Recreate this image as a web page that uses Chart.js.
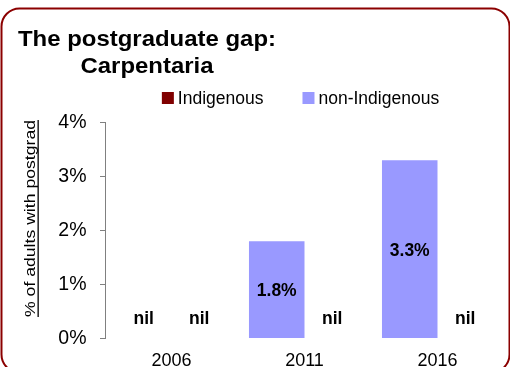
<!DOCTYPE html>
<html>
<head>
<meta charset="utf-8">
<script src="https://cdn.jsdelivr.net/npm/chart.js@4.4.1/dist/chart.umd.min.js"></script>
<style>
  html, body { margin: 0; padding: 0; background: #fff; }
  #wrap { width: 510px; height: 367px; }
</style>
</head>
<body>
<div id="wrap"><canvas id="c" width="510" height="367"></canvas></div>
<script>
// Census years and the share of adults holding a postgraduate qualification (%)
const years = ['2006', '2011', '2016'];
const seriesNames = ['Indigenous', 'non-Indigenous'];
const indigenous = [0, 0, 0];
const nonIndigenous = [0, 1.8, 3.3];
const yTicks = [0, 1, 2, 3, 4];
const titleLines = ['The postgraduate gap:', 'Carpentaria'];
const yTitle = '% of adults with postgrad';
const zeroLabel = 'nil';

const FONT = "'Liberation Sans', Arial, Helvetica, sans-serif";
const COLORS = { 'Indigenous': '#800000', 'non-Indigenous': '#9999ff' };

// Draw text horizontally stretched to a given width
function stretchedText(ctx, text, x, y, width, align) {
  const w = ctx.measureText(text).width;
  const sx = width / w;
  ctx.save();
  let left = x;
  if (align === 'center') left = x - width / 2;
  ctx.translate(left, y);
  ctx.scale(sx, 1);
  ctx.textAlign = 'left';
  ctx.fillText(text, 0, 0);
  ctx.restore();
  return sx;
}

const decor = {
  id: 'decor',
  beforeDraw(chart) {
    const ctx = chart.ctx;
    ctx.save();
    ctx.fillStyle = '#fff';
    ctx.fillRect(0, 0, chart.width, chart.height);
    // rounded frame
    const x = 1.5, y = 8.5, w = 508, h = 364, r = 18;
    ctx.beginPath();
    ctx.moveTo(x + r, y);
    ctx.lineTo(x + w - r, y);
    ctx.arcTo(x + w, y, x + w, y + r, r);
    ctx.lineTo(x + w, y + h - r);
    ctx.arcTo(x + w, y + h, x + w - r, y + h, r);
    ctx.lineTo(x + r, y + h);
    ctx.arcTo(x, y + h, x, y + h - r, r);
    ctx.lineTo(x, y + r);
    ctx.arcTo(x, y, x + r, y, r);
    ctx.closePath();
    ctx.lineWidth = 2;
    ctx.strokeStyle = '#8b0000';
    ctx.stroke();
    ctx.restore();
  },
  afterDraw(chart) {
    const ctx = chart.ctx;
    const area = chart.chartArea;
    const yScale = chart.scales.y;
    ctx.save();
    ctx.fillStyle = '#000';

    // title: two lines, second centred under the first
    ctx.font = 'bold 22px ' + FONT;
    ctx.textBaseline = 'alphabetic';
    const line1Left = 18, line1Width = 258;
    const sx = stretchedText(ctx, titleLines[0], line1Left, 46, line1Width, 'left');
    const w2 = ctx.measureText(titleLines[1]).width * sx;
    stretchedText(ctx, titleLines[1], line1Left + line1Width / 2, 73, w2, 'center');

    // legend
    ctx.font = '17.5px ' + FONT;
    const items = chart.data.datasets.slice().reverse();
    const box = 12, boxGap = 4, itemGap = 39;
    let total = 0;
    items.forEach((d, i) => {
      total += box + boxGap + ctx.measureText(d.label).width + (i < items.length - 1 ? itemGap : 0);
    });
    let lx = (area.left + area.right) / 2 - 4 - total / 2;
    const ly = 98;
    items.forEach(d => {
      ctx.fillStyle = d.backgroundColor;
      ctx.fillRect(lx, ly - box / 2, box, box);
      lx += box + boxGap;
      ctx.fillStyle = '#000';
      ctx.textAlign = 'left';
      ctx.fillText(d.label, lx, ly + 5.5);
      lx += ctx.measureText(d.label).width + itemGap;
    });

    // y-axis title, rotated and underlined
    ctx.font = '15.5px ' + FONT;
    const tw = ctx.measureText(yTitle).width;
    const len = 197;
    ctx.save();
    ctx.translate(35, 218.5);
    ctx.rotate(-Math.PI / 2);
    ctx.scale(len / tw, 1);
    ctx.textAlign = 'center';
    ctx.fillStyle = '#000';
    ctx.fillText(yTitle, 0, 0);
    ctx.fillRect(-tw / 2, 2.5, tw, 1.3);
    ctx.restore();

    // value labels on bars, "nil" for zero values
    ctx.font = 'bold 17.5px ' + FONT;
    ctx.textAlign = 'center';
    ctx.fillStyle = '#000';
    const y0 = yScale.getPixelForValue(0);
    chart.data.datasets.forEach((ds, di) => {
      const meta = chart.getDatasetMeta(di);
      meta.data.forEach((bar, i) => {
        const v = ds.data[i];
        if (v === 0) {
          ctx.fillText(zeroLabel, bar.x, y0 - 15);
        } else {
          ctx.fillText(v.toFixed(1) + '%', bar.x, (bar.y + bar.base) / 2 + 6.5);
        }
      });
    });
    ctx.restore();
  }
};

new Chart(document.getElementById('c'), {
  type: 'bar',
  data: {
    labels: years,
    datasets: [
      { label: seriesNames[1], data: nonIndigenous, backgroundColor: COLORS['non-Indigenous'], borderWidth: 0 },
      { label: seriesNames[0], data: indigenous, backgroundColor: COLORS['Indigenous'], borderWidth: 0 }
    ]
  },
  options: {
    responsive: false,
    animation: false,
    devicePixelRatio: 1,
    categoryPercentage: 0.835,
    barPercentage: 1.0,
    layout: { padding: { top: 122.5, right: 6, left: 0, bottom: 0 } },
    plugins: {
      legend: { display: false },
      title: { display: false },
      tooltip: { enabled: false }
    },
    scales: {
      x: {
        grid: { display: false, drawTicks: false },
        border: { display: false },
        ticks: { color: '#000', font: { family: FONT, size: 18 }, padding: 11.5 },
        afterFit(s) { s.height = 28.5; }
      },
      y: {
        min: 0,
        max: 4,
        afterBuildTicks(s) { s.ticks = yTicks.map(v => ({ value: v })); },
        grid: { display: true, drawOnChartArea: false, drawTicks: true, tickLength: 5, color: '#808080' },
        border: { display: true, color: '#808080' },
        ticks: {
          color: '#000',
          font: { family: FONT, size: 19.5 },
          padding: 13.5,
          callback: v => v + '%'
        },
        afterFit(s) { s.width = 105; }
      }
    }
  },
  plugins: [decor]
});
</script>
</body>
</html>
